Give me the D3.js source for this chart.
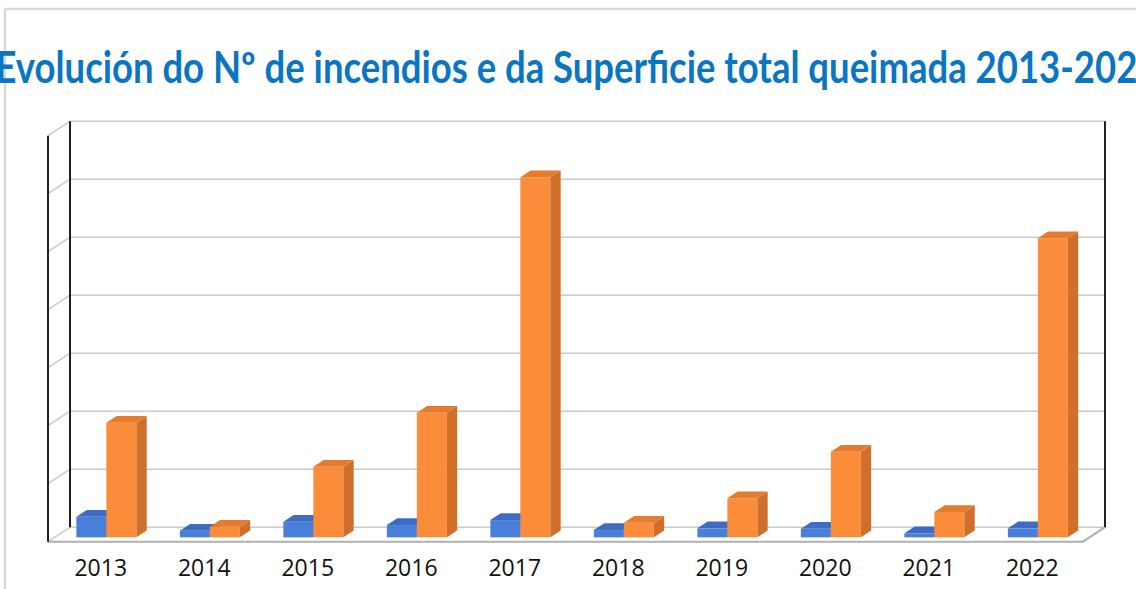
<!DOCTYPE html>
<html>
<head>
<meta charset="utf-8">
<script src="https://cdn.jsdelivr.net/npm/d3@7"></script>
<style>
  body { margin: 0; background: #fff; }
  svg { display: block; }
</style>
</head>
<body>
<svg width="1136" height="589"></svg>
<script>
const titleText = 'Evolución do Nº de incendios e da Superficie total queimada 2013-2022';

const years = ['2013', '2014', '2015', '2016', '2017', '2018', '2019', '2020', '2021', '2022'];
// number of fires (blue) and burned surface (orange)
const incendios = [3550, 1140, 2690, 2120, 2980, 1260, 1550, 1480, 690, 1550];
const superficie = [19760, 1830, 12170, 21480, 62070, 2520, 6720, 14760, 4360, 51550];
const gridTicks = [0, 10000, 20000, 30000, 40000, 50000, 60000, 70000];

const svg = d3.select('svg');

// oblique 3d: depth vector of the whole floor
const depthX = 22, depthY = 14.5;
const barFront = 0.3, barDepth = 0.47;

const xScale = d3.scaleBand()
  .domain(years)
  .range([48, 1083]);

const yScale = d3.scaleLinear()
  .domain([0, 70000])
  .range([541.7, 541.7 - 406]);

const proj = (x, v, d) => [x + d * depthX, yScale(v) - d * depthY];
const poly = pts => pts.map(p => p.join(',')).join(' ');

// outer frame
svg.append('path')
  .attr('d', 'M5,600 L5,9 L1140,9')
  .attr('fill', 'none')
  .attr('stroke', '#d9d9d9')
  .attr('stroke-width', 2.5);

// title (cut at both edges, like the original)
svg.append('text')
  .attr('x', 577)
  .attr('y', 83)
  .attr('text-anchor', 'middle')
  .attr('font-family', 'Lato, "Open Sans", sans-serif')
  .attr('font-weight', 'bold')
  .attr('font-size', 43)
  .attr('fill', '#0a76c2')
  .attr('textLength', 1163)
  .attr('lengthAdjust', 'spacingAndGlyphs')
  .text(titleText);

const x0 = xScale.range()[0], x1 = xScale.range()[1];

// gridlines on back wall + left side wall
const grid = svg.append('g').attr('stroke', '#cacaca').attr('stroke-width', 1.6).attr('fill', 'none');
gridTicks.forEach(t => {
  const a = proj(x0, t, 1), b = proj(x1, t, 1), c = proj(x0, t, 0);
  grid.append('polyline').attr('points', poly([c, a, b]));
});
// floor
grid.append('polyline')
  .attr('points', poly([proj(x0, 0, 0), proj(x1, 0, 0), proj(x1, 0, 1)]))
  .attr('stroke', '#b0b0b0')
  .attr('stroke-width', 2);

// walls vertical edges
const edges = svg.append('g').attr('stroke', '#222').attr('stroke-width', 2);
[[proj(x0, 0, 0), proj(x0, 70000, 0)],
 [proj(x0, 0, 1), proj(x0, 70000, 1)],
 [proj(x1, 0, 1), proj(x1, 70000, 1)]].forEach(([a, b]) => {
  edges.append('line').attr('x1', a[0]).attr('y1', a[1]).attr('x2', b[0]).attr('y2', b[1]);
});

// bars
const barW = 30;
const series = [
  { values: incendios, offset: -barW, front: '#4a7fd9', top: '#3e6cc2', side: '#3762b0' },
  { values: superficie, offset: 0, front: '#fb8c3a', top: '#e47b2e', side: '#d06f29' }
];

const bars = svg.append('g');
years.forEach((yr, i) => {
  const cx = xScale(yr) + xScale.bandwidth() / 2;
  series.forEach(s => {
    const v = s.values[i];
    const xl = cx + s.offset, xr = xl + barW;
    const d0 = barFront, d1 = barFront + barDepth;
    bars.append('polygon')
      .attr('fill', s.front)
      .attr('points', poly([proj(xl, 0, d0), proj(xr, 0, d0), proj(xr, v, d0), proj(xl, v, d0)]));
    bars.append('polygon')
      .attr('fill', s.side)
      .attr('points', poly([proj(xr, 0, d0), proj(xr, 0, d1), proj(xr, v, d1), proj(xr, v, d0)]));
    bars.append('polygon')
      .attr('fill', s.top)
      .attr('points', poly([proj(xl, v, d0), proj(xr, v, d0), proj(xr, v, d1), proj(xl, v, d1)]));
  });
});

// category labels
svg.append('g').selectAll('text').data(years)
  .enter().append('text')
    .attr('x', d => xScale(d) + xScale.bandwidth() / 2 + 1)
    .attr('y', 576)
    .attr('text-anchor', 'middle')
    .attr('font-family', '"Open Sans", sans-serif')
    .attr('font-size', 23)
    .attr('fill', '#111')
    .text(d => d);
</script>
</body>
</html>
